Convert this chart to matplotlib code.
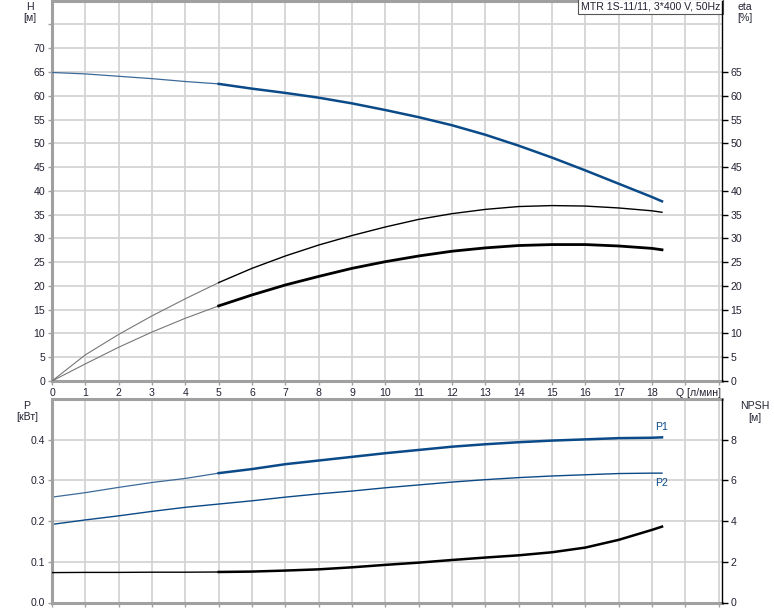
import matplotlib
matplotlib.use('Agg')
import matplotlib.pyplot as plt

plt.rcParams['font.family'] = ['Liberation Sans', 'DejaVu Sans']

# ---------------- data ----------------
Q = [0, 1, 2, 3, 4, 5, 6, 7, 8, 9, 10, 11, 12, 13, 14, 15, 16, 17, 18, 18.3]
H = [64.9, 64.6, 64.1, 63.6, 63.0, 62.5, 61.5, 60.6, 59.6, 58.4, 57.0, 55.5,
     53.8, 51.8, 49.5, 47.0, 44.3, 41.5, 38.7, 37.8]
eta_pump = [0, 5.5, 9.8, 13.7, 17.3, 20.7, 23.7, 26.3, 28.6, 30.6, 32.4, 34.0,
            35.2, 36.1, 36.7, 36.9, 36.8, 36.4, 35.8, 35.5]
eta_total = [0, 3.6, 7.1, 10.3, 13.2, 15.8, 18.1, 20.2, 22.0, 23.7, 25.1, 26.3,
             27.3, 28.0, 28.5, 28.7, 28.7, 28.4, 27.9, 27.6]
P1 = [0.259, 0.270, 0.283, 0.295, 0.305, 0.318, 0.328, 0.340, 0.349, 0.358,
      0.367, 0.375, 0.383, 0.389, 0.394, 0.398, 0.401, 0.404, 0.405, 0.406]
P2 = [0.192, 0.203, 0.213, 0.224, 0.234, 0.242, 0.250, 0.259, 0.267, 0.274,
      0.282, 0.289, 0.296, 0.302, 0.307, 0.311, 0.314, 0.317, 0.318, 0.318]
NPSH = [1.47, 1.48, 1.48, 1.49, 1.49, 1.50, 1.52, 1.57, 1.63, 1.73, 1.85, 1.96,
        2.09, 2.21, 2.32, 2.47, 2.70, 3.08, 3.57, 3.73]

x_ticks = list(range(0, 21))
x_labels = [str(i) for i in range(0, 19)] + ['', '']
h_ticks = list(range(0, 80, 5))
h_labels = [str(v) for v in range(0, 75, 5)] + ['']
eta_ticks = list(range(0, 70, 5))
p_ticks = [0.0, 0.1, 0.2, 0.3, 0.4]
p_labels = ['0.0', '0.1', '0.2', '0.3', '0.4']
npsh_ticks = [0, 2, 4, 6, 8]
title_text = 'MTR 1S-11/11, 3*400 V, 50Hz'

# ---------------- style ----------------
BLUE = '#0b4a88'
BLUE_THIN = '#3d6a99'
GRID = '#d4d4d4'
SPINE = '#a0a0a0'
TXT = '#222233'
FS = 7.6
split = Q.index(5)

W, Hpx = 774, 611
fig = plt.figure(figsize=(W / 100, Hpx / 100), dpi=100)


def px(x, y):
    return x / W, 1 - y / Hpx


def style(ax, tw):
    for s in ['left', 'bottom', 'top']:
        ax.spines[s].set_color(SPINE)
        ax.spines[s].set_linewidth(2.2)
    ax.spines['right'].set_visible(False)
    tw.spines['right'].set_color('black')
    tw.spines['right'].set_linewidth(1.0)
    for s in ['left', 'bottom', 'top']:
        tw.spines[s].set_visible(False)
    ax.tick_params(axis='both', colors=SPINE, labelcolor=TXT, labelsize=FS,
                   length=3, width=1, direction='out', pad=2)
    tw.tick_params(axis='y', colors='black', labelcolor=TXT, labelsize=FS,
                   length=4, width=1, direction='out', pad=2)
    ax.grid(True, color=GRID, linewidth=1.3)
    ax.set_axisbelow(True)
    ax.set_xlim(0, 20.1)
    ax.set_xticks(x_ticks)


# ---------------- top panel ----------------
ax1 = fig.add_axes([52 / W, (Hpx - 381) / Hpx, 670 / W, 380.3 / Hpx])
tw1 = ax1.twinx()
style(ax1, tw1)
ax1.set_ylim(0, 80)
tw1.set_ylim(0, 80)
ax1.set_yticks(h_ticks)
ax1.set_yticklabels(h_labels)
tw1.set_yticks(eta_ticks)
ax1.set_xticklabels(x_labels)

ax1.plot(Q[:split + 1], H[:split + 1], color=BLUE_THIN, lw=0.9, zorder=3)
ax1.plot(Q[split:], H[split:], color=BLUE, lw=1.8, zorder=3,
         solid_joinstyle='round')
tw1.plot(Q[:split + 1], eta_pump[:split + 1], color='#777777', lw=0.8)
tw1.plot(Q[split:], eta_pump[split:], color='black', lw=1.0)
tw1.plot(Q[:split + 1], eta_total[:split + 1], color='#777777', lw=0.8)
tw1.plot(Q[split:], eta_total[split:], color='black', lw=2.0,
         solid_joinstyle='round')

ax1.text(19.4, -2.45, 'Q [л/мин]', ha='center', va='center', fontsize=FS, color=TXT)
ax1.text(0.997, 0.998, title_text, transform=ax1.transAxes, ha='right', va='top',
         fontsize=FS, color=TXT, zorder=10,
         bbox=dict(boxstyle='square,pad=0.25', facecolor='white',
                   edgecolor='#555555', linewidth=0.8))

# ---------------- bottom panel ----------------
ax2 = fig.add_axes([52 / W, (Hpx - 602.5) / Hpx, 670 / W, 203.4 / Hpx])
tw2 = ax2.twinx()
style(ax2, tw2)
ax2.set_ylim(0, 0.5)
tw2.set_ylim(0, 10)
ax2.set_yticks(p_ticks)
ax2.set_yticklabels(p_labels)
tw2.set_yticks(npsh_ticks)
ax2.tick_params(axis='x', labelbottom=False)

ax2.plot(Q[:split + 1], P1[:split + 1], color=BLUE_THIN, lw=0.9)
ax2.plot(Q[split:], P1[split:], color=BLUE, lw=1.8, solid_joinstyle='round')
ax2.plot(Q, P2, color=BLUE, lw=1.0)
tw2.plot(Q[:split + 1], NPSH[:split + 1], color='black', lw=1.0)
tw2.plot(Q[split:], NPSH[split:], color='black', lw=1.8, solid_joinstyle='round')

ax2.text(Q[-1], P1[-1] + 0.012, 'P1', ha='center', va='bottom', fontsize=FS, color=BLUE)
ax2.text(Q[-1], P2[-1] - 0.012, 'P2', ha='center', va='top', fontsize=FS, color=BLUE)

# ---------------- axis titles ----------------
for (x, y, s) in [(30, 7, 'H'), (30, 18, '[м]'), (745, 7, 'eta'), (745, 18, '[%]'),
                  (27, 406, 'P'), (27, 417, '[кВт]'), (755, 406, 'NPSH'), (755, 418, '[м]')]:
    fx, fy = px(x, y)
    fig.text(fx, fy, s, ha='center', va='center', fontsize=FS, color=TXT)

fig.savefig('out.png', dpi=100)
